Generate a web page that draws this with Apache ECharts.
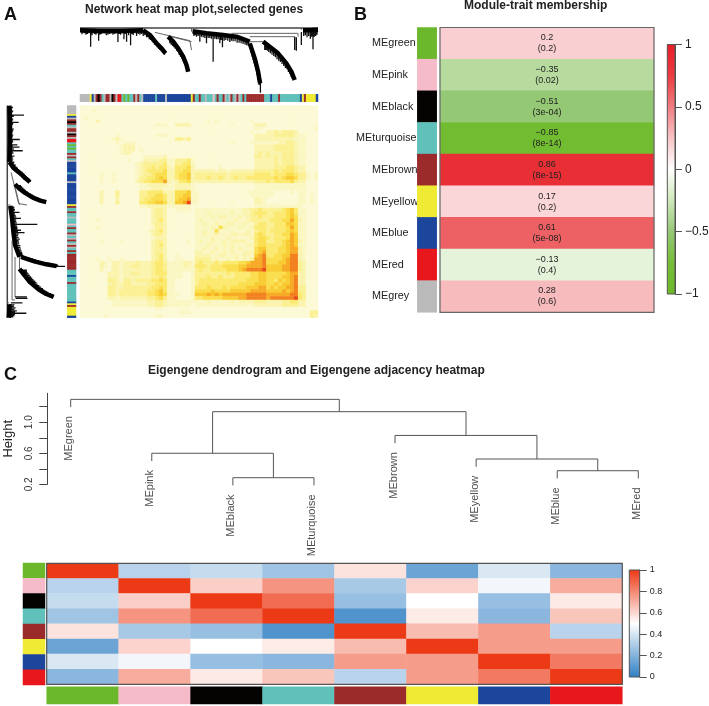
<!DOCTYPE html>
<html><head><meta charset="utf-8">
<script src="https://cdn.jsdelivr.net/npm/echarts@6/dist/echarts.min.js"></script>
<style>html,body{margin:0;padding:0;background:#fff}#c{width:709px;height:706px}</style>
</head><body><div id="c"></div>
<script>
// ---------- module colours
const moduleColors = {k:'#BABABA',g:'#6CB82C',p:'#F5BBC9',d:'#050202',t:'#5FC1BA',n:'#9B2A2B',y:'#EFEA33',b:'#1B469C',r:'#E8171C'};
const moduleKeys = Object.keys(moduleColors);
// ---------- panel A : gene order colour strip (one letter per bin)
const geneStrip = 'kkkkk'+'ybk'+'nd'+'ntknnkdnk'+'rr'+'tgtgtt'+'nkntk'+'bbbbbb'+'t'+'bbbb'+'k'+'bbbbbbbbbbbb'+'yn'+'ttnttkttt'+'p'+'tn'+'tt'+'nktkntknktn'+'tn'+'nnnnnnnn'+'ttt'+'b'+'t'+'tt'+'n'+'tttttttttt'+'byny'+'yyyy'+'b';
// ---------- panel A : TOM heat map, lower triangle, one digit per cell (0 pale .. 9 red)
const tomRows = [
'0','00','000','0100','00002','000000','0000000','00000000','000000000',
'0000000012','00000000010','000000000012','0000000000122','00000000001220',
'000000000000000','000000000000 1000',
'00000000000000 123','000000000000001233','00000000000000 12344',
'00000100100000 123345','00000100100000 1334456','00000100100000 23445557',
'000000000000000 11222221','000000000000000 111222111',
'000002000300000 3344442 22 5','000002000300000 3344554 22 55',
'000002000200000 3445554 22 566','000002000300000 4455665 22 6679',
'000000000000000 1122222 11 11110',
'000000000000000 000 2332 00 1111 0 1',
'000000000000000 000 2332 00 0000 0 11',
'000000000000000 000 2332 00 0000 0 111',
'000010000000000 000 2342 00 0000 0 1211',
'000000000000000 000 2332 00 0000 0 11211',
'000010000000000 000 1332 00 0000 0 111121',
'000000000000000 001 2342 00 0000 0 1121151',
'000000000000000 000 2332 00 0000 0 11211211',
'000000000000000 000 1222 00 0000 0 111121112',
'000001000010000 000 2332 00 0001 0 1211211212',
'000000000000000 000 2342 00 0000 0 11121112121',
'000000000000000 000 2332 00 0000 0 112112111212',
'000000000000000 000 2332 00 0000 0 2211211212112',
'000000000000000 000 2342 00 1000 0 22221122112122',
'000010010010000 000 2342 00 1100 0 333312112121213',
'000002102212223 222 3443 11 1122 1 343334344445567 7',
'000002102212233 222 3443 11 1122 1 444344455556677 77',
'000002002212222 222 3443 11 1111 1 343344445556788 889',
'000000022212233 222 3444 11 1100 1 333333334344445 566 5',
'000000022212222 222 3343 11 1100 1 333433433344445 566 55',
'000000033213323 333 4454 11 0000 1 344444444444455 566 554',
'000000023223322 223 3444 11 0000 1 344444444445555 666 5565',
'000000033223333 333 4454 11 0000 1 444544454555566 677 56566',
'000000033233333 334 4564 11 0000 1 555565555666667 777 666676',
'000000033233333 334 4565 11 1000 1 666767677777788 888 7777778',
'000000022122222 223 3453 11 0000 1 445555566667788 888 78888889',
'000000001111111 112 2332 11 1111 1 111211111212222 333 22223344 2',
'000000001111111 112 2332 11 1111 0 111111111111111 222 22223333 22',
'000000000000000 000 0110 00 0000 0 000000000000000 000 00000000 000',
'000000000000000 000 0000 00 0111 0 000000000000000 000 00000000 0003',
'000000100000000 000 0110 00 0000 0 000000000000000 000 00000000 00032'
];
const tomColors = ['#FCFAD6','#FBF7C4','#FBF4AE','#FBF093','#FBE970','#FADE4E','#F9CB33','#F7AA26','#F2801F','#E84A1E'];
// ---------- panel A : gene dendrogram (position along genes, branch depth)
const treeRoot = [[240,84],[955,84]];
const treeSpines = [
 [[240,91],[300,93],[360,93],[430,91]],
 [[430,91],[450,105],[470,130],[485,145],[497,160]],
 [[505,110],[520,125],[535,145],[550,170],[560,195],[565,215]],
 [[578,94],[620,100],[670,105],[710,110],[750,125]],
 [[750,130],[765,175],[775,215],[781,250]],
 [[790,125],[810,140],[835,160],[860,190],[875,215],[885,240]],
 [[910,91],[930,91],[955,89]]
];
const treeLinks = [
 [[465,97],[570,122],[575,150]],[[505,108],[575,125]],[[575,84],[575,95]],
 [[695,100],[895,100],[895,110]],[[750,110],[885,110]],[[750,125],[790,125]],[[905,84],[905,90]]
];
const treeTeeth = [
 [246,86,103],[250,86,98],[254,86,100],[258,86,104],[262,86,102],[267,86,100],[272,88,140],[276,86,106],[280,86,100],[284,86,102],[288,88,104],[292,88,100],[296,90,122],[300,88,104],[304,88,102],[309,88,100],[314,88,100],[319,88,106],[324,88,104],[329,88,102],[334,88,100],[339,88,104],[344,88,102],[349,88,100],[354,90,126],[358,88,102],[362,88,104],[367,88,100],[372,90,118],[376,88,102],[380,92,125],[386,88,106],[392,92,136],[396,88,102],[400,90,105],[405,88,100],[410,90,108],[415,88,102],[420,90,104],[425,88,102],[430,90,108],[435,92,106],
 [440,96,112],[444,98,112],[448,100,118],[452,104,120],[456,108,124],[460,112,128],[464,116,134],[468,120,136],[472,124,142],[476,130,146],[480,134,150],[484,138,154],[488,142,158],[494,150,164],
 [510,112,130],[514,116,134],[518,120,138],[522,124,142],[526,128,146],[530,134,152],[534,138,156],[538,144,164],[542,150,170],[546,156,176],[550,162,184],[553,170,190],[556,176,196],[561,190,212],
 [582,92,108],[586,92,106],[590,94,110],[595,96,108],[600,96,125],[605,96,110],[610,98,112],[615,98,114],[620,98,130],[625,98,114],[630,100,114],[635,100,116],[640,100,185],[645,102,116],[650,102,118],[655,102,118],[660,102,130],[664,104,120],[668,104,142],[673,104,122],[678,106,120],[684,106,122],[690,106,126],[695,106,122],[700,108,124],[706,108,124],[712,110,128],[718,112,128],[724,114,130],[730,116,132],[736,118,134],[741,120,136],[746,124,138],
 [754,140,160],[757,146,170],[760,155,180],[763,162,190],[766,170,198],[769,182,210],[772,195,225],[775,210,240],[778,225,255],[782,240,278],
 [795,124,150],[799,126,150],[803,130,152],[807,134,156],[812,140,160],[817,144,164],[822,148,168],[827,152,172],[832,158,178],[837,162,182],[842,166,186],[847,172,192],[852,178,198],[857,184,204],[862,190,208],[866,196,216],[870,204,222],[874,210,230],[878,218,236],
 [885,110,150],[890,112,152],[905,96,135],[912,90,108],[917,90,106],[922,90,112],[927,90,108],[932,92,116],[936,92,110],[940,96,148],[944,92,110],[948,90,108],[952,90,104]
];
// ---------- panel B
const traitModules = ['MEgreen','MEpink','MEblack','MEturquoise','MEbrown','MEyellow','MEblue','MEred','MEgrey'];
const traitKeys = ['g','p','d','t','n','y','b','r','k'];
const traitCor = [0.2,-0.35,-0.51,-0.85,0.86,0.17,0.61,-0.13,0.28];
const traitP = ['0.2','0.02','3e-04','8e-14','8e-15','0.2','5e-08','0.4','0.6'];
const traitColors = ['#6CB828','#76BE38','#95C876','#CEE8BA','#FFFFFF','#F8C3C6','#F07D80','#EA3C41','#E81E28'];
// ---------- panel C
const eigenNames = ['MEgreen','MEpink','MEblack','MEturquoise','MEbrown','MEyellow','MEblue','MEred'];
const eigenKeys = ['g','p','d','t','n','y','b','r'];
// merges: [child, child, height]; child >= 0 is a leaf, child < 0 is merge number -child-1
const eigenMerges = [[6,7,0.375],[5,-1,0.526],[4,-2,0.83],[2,3,0.285],[1,-4,0.60],[-5,-3,1.136],[0,-6,1.295]];
const eigenHang = 0.1;
const adjacency = [
 [1,0.33,0.36,0.27,0.57,0.146,0.41,0.22],
 [0.33,1,0.62,0.77,0.29,0.61,0.47,0.71],
 [0.36,0.62,1,0.87,0.25,0.5,0.25,0.555],
 [0.27,0.77,0.87,1,0.08,0.55,0.22,0.645],
 [0.57,0.29,0.25,0.08,1,0.67,0.75,0.33],
 [0.146,0.61,0.5,0.55,0.67,1,0.75,0.75],
 [0.41,0.47,0.25,0.22,0.75,0.75,1,0.835],
 [0.22,0.71,0.555,0.645,0.33,0.75,0.835,1]
];
const adjColors = ['#2F7FC4','#FFFFFF','#EC3916'];

// ---------- build
const FONT = 'Liberation Sans';
const grid=[],xAxis=[],yAxis=[],series=[],visualMap=[];
function addGrid(l,t,w,h,xa,ya,extra){
  grid.push(Object.assign({left:l,top:t,width:w,height:h,containLabel:false,outerBoundsMode:'none'},extra||{}));
  xa.gridIndex=grid.length-1; ya.gridIndex=grid.length-1; xAxis.push(xa); yAxis.push(ya);
  return grid.length-1;
}
const hiddenCat = (data,inv)=>({type:'category',data,show:false,inverse:!!inv});
const hiddenVal = (min,max,inv)=>({type:'value',min,max,show:false,inverse:!!inv,splitLine:{show:false}});
function flat(polys){const out=[];polys.forEach((p,i)=>{if(i)out.push(['-','-']);p.forEach(q=>out.push(q));});return out;}
function lineS(g,data,color,width){
  series.push({type:'line',xAxisIndex:g,yAxisIndex:g,data,symbol:'none',showSymbol:false,clip:false,silent:true,connectNulls:false,
    lineStyle:{color,width,join:'round',cap:'butt'},animation:false});
}
// gene tree, drawn twice: along the top and, transposed, down the left
const teethPolys = treeTeeth.map(t=>[[t[0],t[1]],[t[0],t[2]]]);
const swap = polys=>polys.map(p=>p.map(q=>[q[1],q[0]]));
function geneTree(g,tr){
  lineS(g,flat(tr([treeRoot])),'#444',1.5);
  lineS(g,flat(tr(treeLinks)),'#666',1);
  lineS(g,flat(tr(teethPolys)),'#111',1.3);
  lineS(g,flat(tr(treeSpines)),'#000',4.5);
}
let g=addGrid(80,28,238,64.7,hiddenVal(240,955),hiddenVal(84,278,true));
geneTree(g,p=>p);
g=addGrid(7.3,105.7,57.7,212,hiddenVal(84,278),hiddenVal(240,955,true));
geneTree(g,swap);
// strips
const stripSeries=[];
function strip(gi,keys,vertical){
  const data=keys.map((k,i)=>vertical?[0,i,moduleKeys.indexOf(k)]:[i,0,moduleKeys.indexOf(k)]);
  series.push({type:'heatmap',xAxisIndex:gi,yAxisIndex:gi,data,silent:true,itemStyle:{borderWidth:0},progressive:0,animation:false});
  stripSeries.push(series.length-1);
}
const geneKeys=geneStrip.split('');
const binIdx=geneKeys.map((_,i)=>i);
g=addGrid(80,94.3,238,7.4,hiddenCat(binIdx),hiddenCat(['']));
strip(g,geneKeys,false);
g=addGrid(67.3,105.5,8.7,212.2,hiddenCat(['']),hiddenCat(binIdx,true));
strip(g,geneKeys,true);
// A heat
const tomN=tomRows.length, tomIdx=tomRows.map((_,i)=>i), tomData=[];
tomRows.forEach((row,i)=>{row.replace(/\s/g,'').split('').forEach((ch,j)=>{
  const v=+ch; tomData.push([j,i,v]); if(i!==j)tomData.push([i,j,v]);});});
g=addGrid(80,105.7,238,212,hiddenCat(tomIdx),hiddenCat(tomIdx,true));
series.push({type:'heatmap',xAxisIndex:g,yAxisIndex:g,data:tomData,silent:true,progressive:0,animation:false});
visualMap.push({type:'continuous',show:false,min:0,max:9,dimension:2,seriesIndex:series.length-1,inRange:{color:tomColors}});
// B strip + labels
g=addGrid(417.3,27.5,19.4,284.8,hiddenCat(['']),{type:'category',inverse:true,
  data:traitModules.map(n=>n==='MEturquoise'?{value:n,textStyle:{align:'left',padding:[0,0,0,0]}}:n),
  axisLine:{show:false},axisTick:{show:false},
  axisLabel:{fontFamily:FONT,fontSize:10.8,color:'#222',margin:61.3,align:'left',padding:[0,0,0,16]}});
strip(g,traitKeys,true);
// B heat
g=addGrid(440,27.5,214,284.8,hiddenCat(['trait']),hiddenCat(traitModules,true),{show:true,z:5,borderColor:'#666',borderWidth:1.2,backgroundColor:'transparent'});
series.push({type:'heatmap',xAxisIndex:g,yAxisIndex:g,silent:true,progressive:0,animation:false,
  data:traitCor.map((v,i)=>[0,i,v]),
  label:{show:true,fontFamily:FONT,fontSize:9,lineHeight:11,color:'#222',
    formatter:p=>{const v=traitCor[p.dataIndex];return (v<0?'\u2212'+(-v):v)+'\n('+traitP[p.dataIndex]+')';}}});
visualMap.push({type:'continuous',show:false,min:-1,max:1,dimension:2,seriesIndex:series.length-1,inRange:{color:traitColors}});
// colour bars
function colorBar(l,t,w,h,min,max,interval,colors,fontSize,fmt){
  const stops=colors.map((c,i)=>({offset:i/(colors.length-1),color:c}));
  const gi=addGrid(l,t,w,h,hiddenVal(0,1),{type:'value',position:'right',min,max,interval,
    axisLine:{show:true,onZero:false,lineStyle:{color:'#555',width:1}},axisTick:{show:true,length:7,lineStyle:{color:'#555'}},splitLine:{show:false},
    axisLabel:{fontFamily:FONT,fontSize,color:'#222',margin:10,formatter:fmt}},{show:true,z:5,borderColor:'#555',borderWidth:1,backgroundColor:'transparent'});
  series.push({type:'custom',xAxisIndex:gi,yAxisIndex:gi,silent:true,animation:false,clip:false,
    data:[[0,min,max]],encode:{x:0,y:[1,2]},
    renderItem:(params,api)=>{
      const a=api.coord([0,api.value(1)]),b=api.coord([1,api.value(2)]);
      return {type:'rect',shape:{x:a[0],y:b[1],width:b[0]-a[0],height:a[1]-b[1]},
        style:{fill:new echarts.graphic.LinearGradient(0,1,0,0,stops)}};
    }});
}
colorBar(667.3,44.5,7.7,249.5,-1,1,0.5,traitColors,12,v=>String(v).replace('-','\u2212'));
// C tree
const eX={},eH={};
const treePolys=[];const leafEnds=[];
function nodePos(c,h){
  if(c>=0){leafEnds[c]=[c,h-eigenHang];return [c,h-eigenHang];}
  const m=-c-1;return [eX[m],eH[m]];
}
eigenMerges.forEach((m,i)=>{
  const a=nodePos(m[0],m[2]),b=nodePos(m[1],m[2]);
  eX[i]=(a[0]+b[0])/2;eH[i]=m[2];
  treePolys.push([a,[a[0],m[2]],[b[0],m[2]],b]);
});
g=addGrid(47.3,393.3,591,91,hiddenVal(-0.2885,7),{type:'value',min:0.2,max:1.373,
  name:'Height',nameLocation:'middle',nameGap:32,nameRotate:90,nameTextStyle:{fontFamily:FONT,fontSize:13,color:'#222'},
  axisLine:{show:true,onZero:false,lineStyle:{color:'#444',width:1}},axisTick:{show:true,length:8,lineStyle:{color:'#444'},customValues:[0.2,0.4,0.6,0.8,1.0,1.2]},
  splitLine:{show:false},
  axisLabel:{fontFamily:FONT,fontSize:10,color:'#333',rotate:90,margin:13,customValues:[0.2,0.6,1.0],formatter:v=>v.toFixed(1)}});
lineS(g,flat(treePolys),'#555',1);
series.push({type:'scatter',xAxisIndex:g,yAxisIndex:g,clip:false,silent:true,animation:false,symbol:'circle',symbolSize:0.01,
  data:leafEnds,
  label:{show:true,position:[-1.5,9],rotate:90,align:'right',verticalAlign:'middle',fontFamily:FONT,fontSize:11,color:'#222',
    formatter:p=>eigenNames[p.dataIndex]}});
// C heat
g=addGrid(46.7,563.3,575.6,121,hiddenCat(eigenNames),hiddenCat(eigenNames,true),{show:true,z:5,borderColor:'#555',borderWidth:1.2,backgroundColor:'transparent'});
const adjData=[];adjacency.forEach((r,i)=>r.forEach((v,j)=>adjData.push([j,i,v])));
series.push({type:'heatmap',xAxisIndex:g,yAxisIndex:g,data:adjData,silent:true,progressive:0,animation:false});
visualMap.push({type:'continuous',show:false,min:0,max:1,dimension:2,seriesIndex:series.length-1,inRange:{color:adjColors}});
g=addGrid(23,563,22,122,hiddenCat(['']),hiddenCat(eigenNames,true));
strip(g,eigenKeys,true);
g=addGrid(46.7,686.7,575.6,17.3,hiddenCat(eigenNames),hiddenCat(['']));
strip(g,eigenKeys,false);
colorBar(629.3,570,10.4,107,0,1,0.2,adjColors,9,v=>String(v));
visualMap.push({type:'piecewise',show:false,dimension:2,seriesIndex:stripSeries,
  pieces:moduleKeys.map((k,i)=>({value:i,color:moduleColors[k]}))});

const title=[
 {text:'A',left:4,top:6,textStyle:{fontFamily:FONT,fontSize:18,fontWeight:'bold',color:'#111'}},
 {text:'B',left:354,top:6,textStyle:{fontFamily:FONT,fontSize:18,fontWeight:'bold',color:'#111'}},
 {text:'C',left:4,top:366,textStyle:{fontFamily:FONT,fontSize:18,fontWeight:'bold',color:'#111'}},
 {text:'Network heat map plot,selected genes',left:85,top:4,textStyle:{fontFamily:FONT,fontSize:12,fontWeight:'bold',color:'#222'}},
 {text:'Module-trait membership',left:464,top:0,textStyle:{fontFamily:FONT,fontSize:12,fontWeight:'bold',color:'#222'}},
 {text:'Eigengene dendrogram and Eigengene adjacency heatmap',left:148,top:365,textStyle:{fontFamily:FONT,fontSize:12,fontWeight:'bold',color:'#222'}}
];
title.forEach(t=>{t.padding=0;});
const chart=echarts.init(document.getElementById('c'),null,{renderer:'canvas'});
chart.setOption({animation:false,backgroundColor:'#fff',title,grid,xAxis,yAxis,series,visualMap,tooltip:{show:false},legend:{show:false}});
</script></body></html>
